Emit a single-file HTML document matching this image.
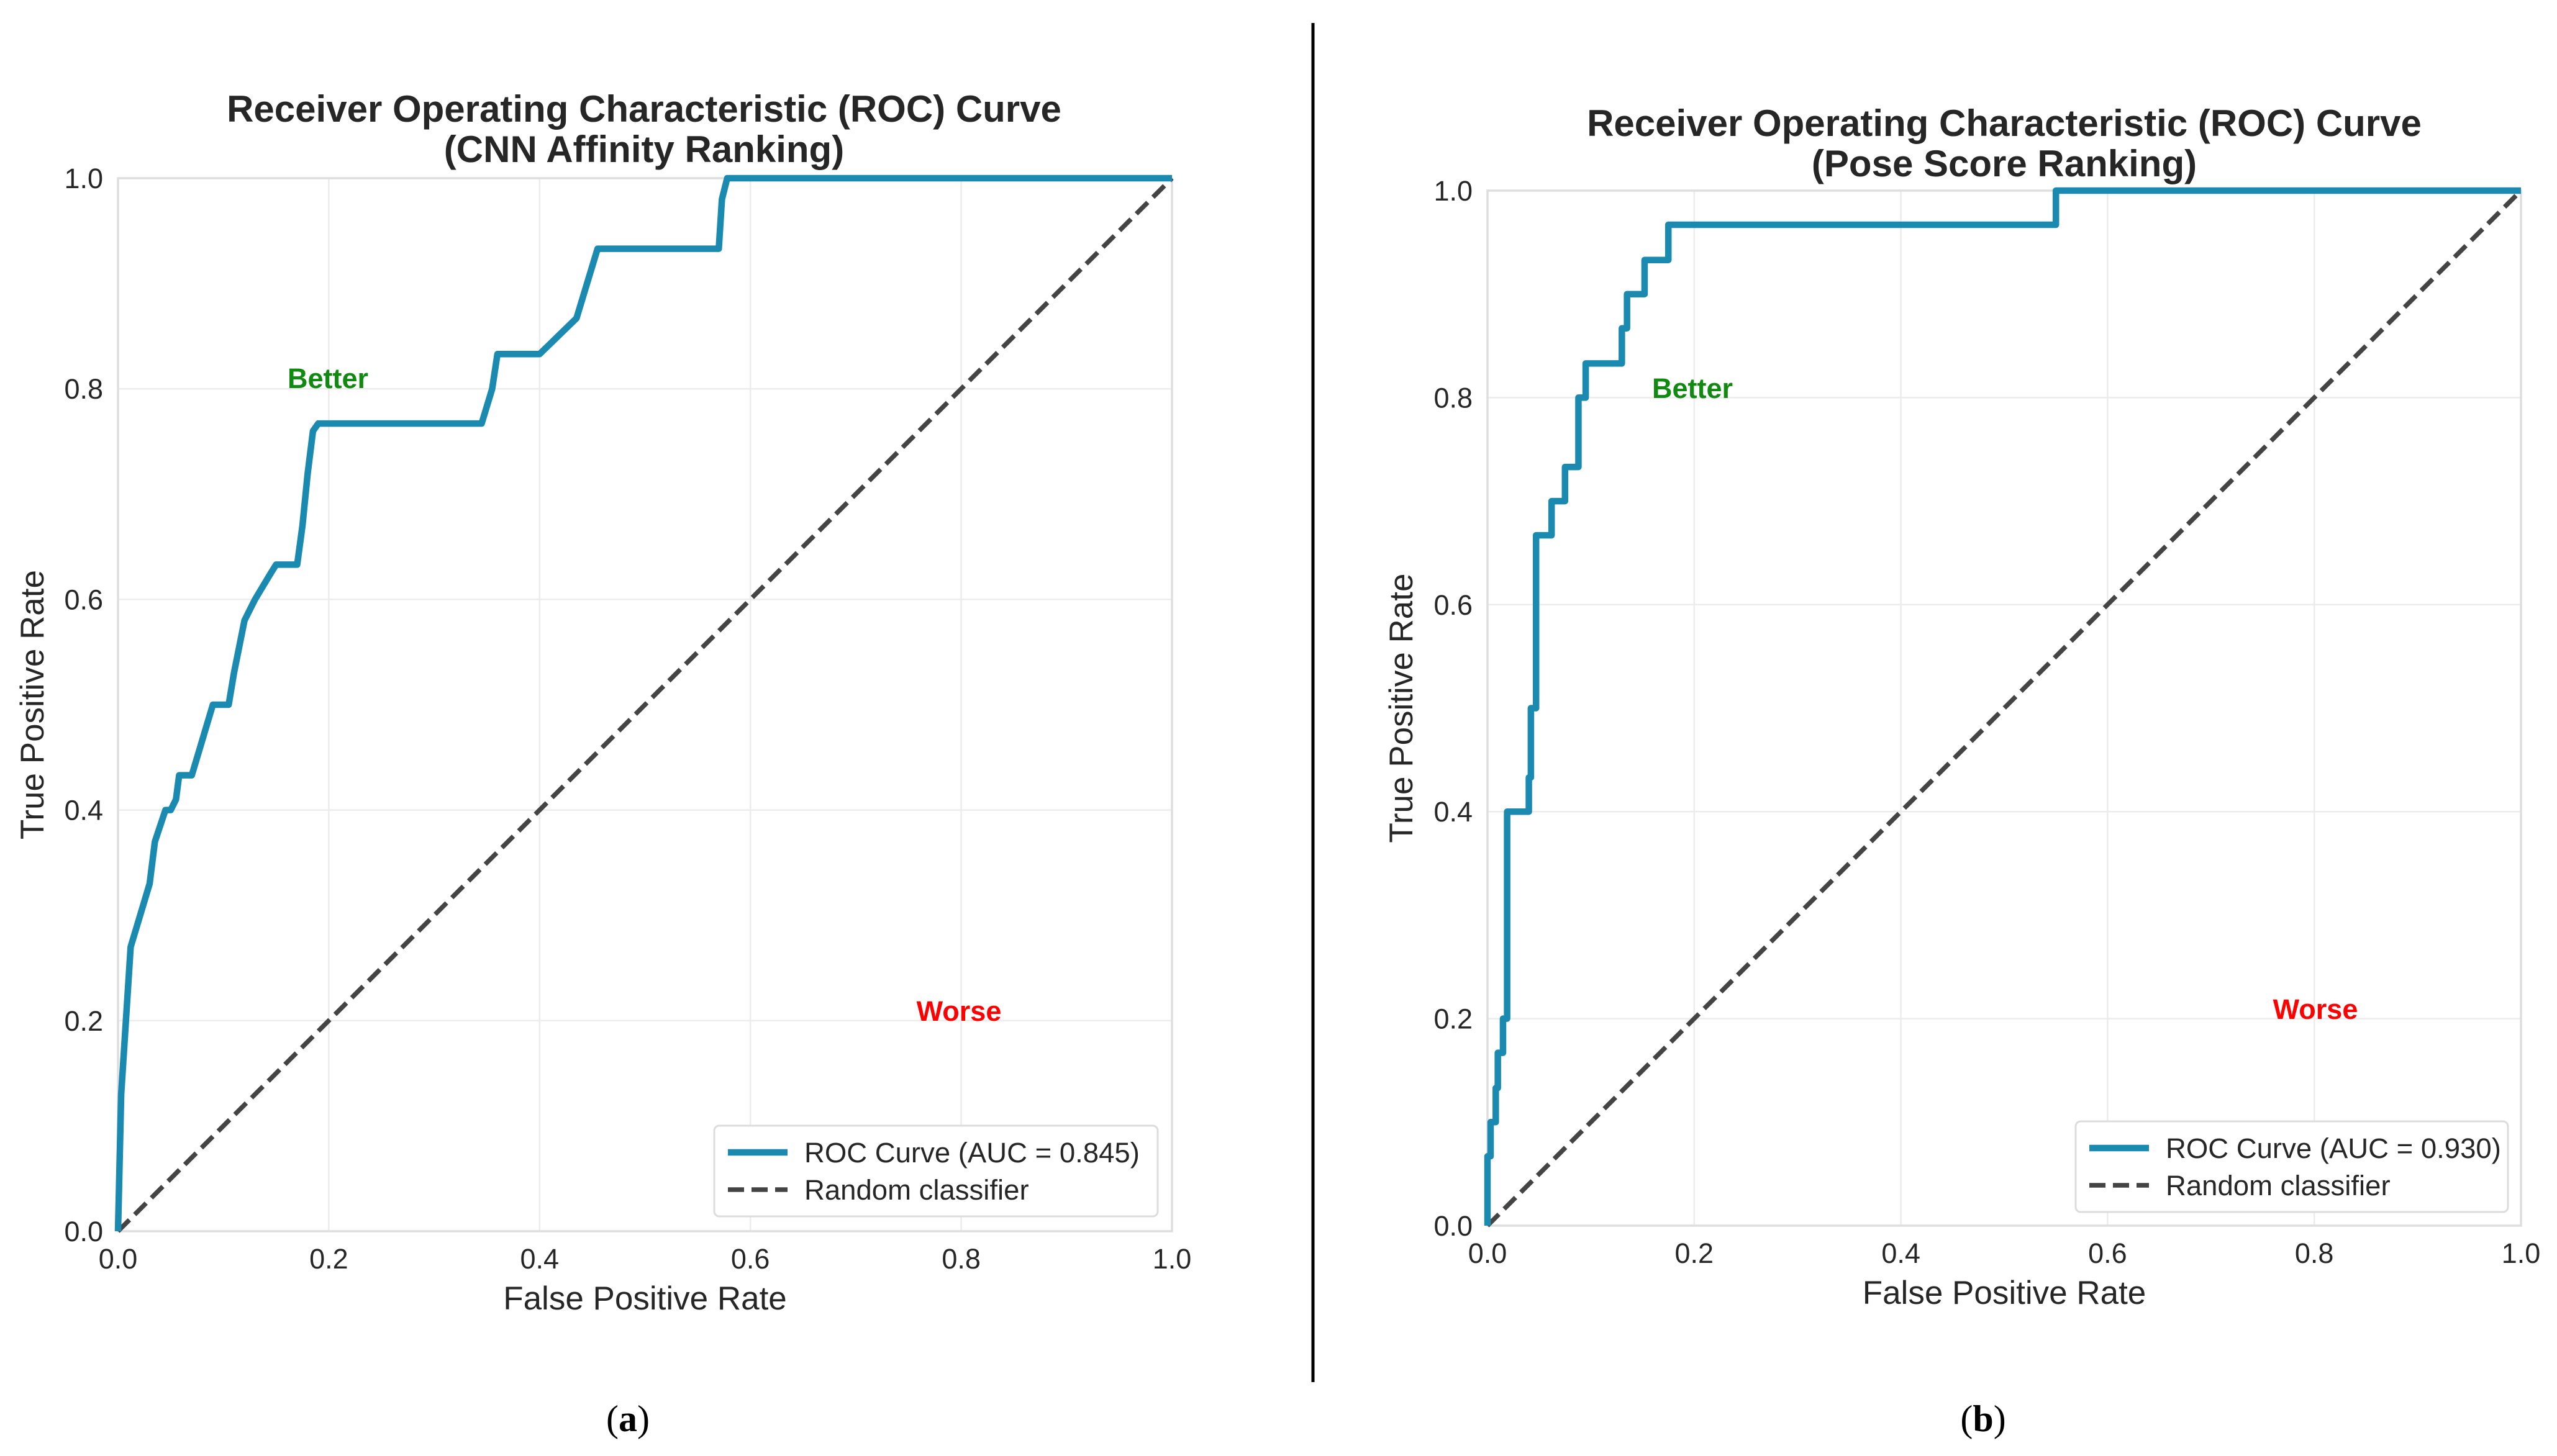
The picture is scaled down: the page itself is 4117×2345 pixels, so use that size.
<!DOCTYPE html>
<html><head><meta charset="utf-8">
<style>
html,body{margin:0;padding:0;background:#fff;}
svg{display:block;}
text{font-family:"Liberation Sans",sans-serif;}
</style></head>
<body>
<svg id="fig" width="4117" height="2345" viewBox="0 0 4117 2345" xmlns="http://www.w3.org/2000/svg">
<rect width="4117" height="2345" fill="#fff"/>
<line x1="2114" y1="37" x2="2114" y2="2226" stroke="#000" stroke-width="5"/>
<text x="1011" y="2305" font-size="60" text-anchor="middle" style="font-family:'Liberation Serif',serif">(<tspan font-weight="bold">a</tspan>)</text>
<text x="3193" y="2305" font-size="60" text-anchor="middle" style="font-family:'Liberation Serif',serif">(<tspan font-weight="bold">b</tspan>)</text>
</svg>
<script>
const ticks = [0, 0.2, 0.4, 0.6, 0.8, 1.0];
const tickLabels = ["0.0","0.2","0.4","0.6","0.8","1.0"];
// Panel A: CNN affinity ROC (fpr, tpr), drawn as polyline
const fprA = [0,0.003,0.012,0.03,0.035,0.045,0.05,0.055,0.058,0.07,0.09,0.105,0.11,0.12,0.13,0.145,0.15,0.17,0.175,0.18,0.185,0.19,0.345,0.355,0.36,0.40,0.435,0.445,0.455,0.57,0.573,0.578,1.0];
const tprA = [0,0.13,0.27,0.33,0.37,0.40,0.40,0.41,0.433,0.433,0.50,0.50,0.53,0.58,0.60,0.625,0.633,0.633,0.67,0.72,0.76,0.767,0.767,0.80,0.833,0.833,0.867,0.9,0.933,0.933,0.98,1.0,1.0];
// Panel B: Pose score ROC, drawn as steps (horizontal then vertical)
const fprB = [0,0,0.003,0.008,0.010,0.015,0.019,0.040,0.042,0.047,0.062,0.075,0.088,0.095,0.130,0.135,0.152,0.175,0.550,1.0];
const tprB = [0,0.067,0.1,0.133,0.167,0.2,0.4,0.433,0.5,0.667,0.7,0.733,0.8,0.833,0.867,0.9,0.933,0.967,1.0,1.0];
const aucA = "0.845", aucB = "0.930";

const NS = "http://www.w3.org/2000/svg";
const svg = document.getElementById('fig');
function mk(tag, attrs, parent, txt){
  const e = document.createElementNS(NS, tag);
  for (const k in attrs) e.setAttribute(k, attrs[k]);
  if (txt !== undefined) e.textContent = txt;
  (parent||svg).appendChild(e);
  return e;
}
function panel(cfg){
  const g = mk('g', {});
  
  
  const sx = v => cfg.x0 + v*(cfg.x1-cfg.x0);
  const sy = v => cfg.y0 - v*(cfg.y0-cfg.y1);
  ticks.forEach((t,i)=>{
    if (i>0 && i<ticks.length-1){
      const gx = mk('line',{x1:sx(t),y1:cfg.y1,x2:sx(t),y2:cfg.y0,stroke:'#ececec','stroke-width':2.5},g);
      
      
      const gy = mk('line',{x1:cfg.x0,y1:sy(t),x2:cfg.x1,y2:sy(t),stroke:'#ececec','stroke-width':2.5},g);
      
      
    }
    const xl = mk('text',{x:sx(t),y:cfg.y0+60,'font-size':45,'text-anchor':'middle',fill:'#262626'},g,tickLabels[i]);
    
    
    const yl = mk('text',{x:cfg.x0-24,y:sy(t)+16,'font-size':45,'text-anchor':'end',fill:'#262626'},g,tickLabels[i]);
    
    
  });
  const fr = mk('rect',{x:cfg.x0,y:cfg.y1,width:cfg.x1-cfg.x0,height:cfg.y0-cfg.y1,fill:'none',stroke:'#dedede','stroke-width':3.5},g);
  
  
  const dg = mk('line',{x1:sx(0),y1:sy(0),x2:sx(1),y2:sy(1),stroke:'#444','stroke-width':7.5,'stroke-dasharray':'26 12'},g);
  
  
  let d = '';
  if (cfg.step){
    d = 'M'+sx(cfg.fpr[0])+','+sy(cfg.tpr[0]);
    for (let i=1;i<cfg.fpr.length;i++){ d += ' H'+sx(cfg.fpr[i])+' V'+sy(cfg.tpr[i]); }
  } else {
    d = cfg.fpr.map((f,i)=>(i?'L':'M')+sx(f)+','+sy(cfg.tpr[i])).join(' ');
  }
  const rc = mk('path',{d:d,fill:'none',stroke:'#1a8ab0','stroke-width':10.5,'stroke-linejoin':'round'},g);
  
  
  const t1 = mk('text',{x:cfg.tx,y:cfg.ty,'font-size':60,'font-weight':'bold','text-anchor':'middle',fill:'#262626'},g,'Receiver Operating Characteristic (ROC) Curve');
  
  
  const t2 = mk('text',{x:cfg.tx,y:cfg.ty+65,'font-size':60,'font-weight':'bold','text-anchor':'middle',fill:'#262626'},g,cfg.sub);
  
  
  const xt = mk('text',{x:(cfg.x0+cfg.x1)/2,y:cfg.y0+126,'font-size':53,'text-anchor':'middle',fill:'#262626'},g,'False Positive Rate');
  
  
  const yt = mk('text',{x:cfg.ytx,y:(cfg.y0+cfg.y1)/2,'font-size':53,'text-anchor':'middle',fill:'#262626',transform:'rotate(-90 '+cfg.ytx+' '+((cfg.y0+cfg.y1)/2)+')'},g,'True Positive Rate');
  
  
  const bt = mk('text',{x:cfg.bx,y:cfg.by,'font-size':45,'font-weight':'bold','text-anchor':'middle',fill:'#118a11'},g,'Better');
  
  
  const wt = mk('text',{x:cfg.wx,y:cfg.wy,'font-size':45,'font-weight':'bold','text-anchor':'middle',fill:'#ff0000'},g,'Worse');
  
  
  const lg = mk('g',{},g);
  
  
  mk('rect',{x:cfg.lx,y:cfg.ly,width:cfg.lw,height:146,rx:8,fill:'#fff',stroke:'#dcdcdc','stroke-width':3},lg);
  const l1 = mk('line',{x1:cfg.lx+22,y1:cfg.ly+43,x2:cfg.lx+118,y2:cfg.ly+43,stroke:'#1a8ab0','stroke-width':10.5},lg);
  
  
  const e1 = mk('text',{x:cfg.lx+145,y:cfg.ly+59,'font-size':45.5,fill:'#262626'},lg,'ROC Curve (AUC = '+cfg.auc+')');
  
  
  const l2 = mk('line',{x1:cfg.lx+22,y1:cfg.ly+103,x2:cfg.lx+118,y2:cfg.ly+103,stroke:'#444','stroke-width':7.5,'stroke-dasharray':'26 12'},lg);
  
  
  const e2 = mk('text',{x:cfg.lx+145,y:cfg.ly+119,'font-size':45.5,fill:'#262626'},lg,'Random classifier');
  
  
}
panel({id:'cnn-affinity',x0:190,x1:1887,y1:287,y0:1983,fpr:fprA,tpr:tprA,step:false,
  tx:1037,ty:196,sub:'(CNN Affinity Ranking)',ytx:70,bx:528,by:625,wx:1544,wy:1644,
  lx:1150,ly:1813,lw:714,auc:aucA});
panel({id:'pose-score',x0:2395,x1:4059,y1:307,y0:1974,fpr:fprB,tpr:tprB,step:true,
  tx:3227,ty:219,sub:'(Pose Score Ranking)',ytx:2274,bx:2725,by:641,wx:3728,wy:1641,
  lx:3342,ly:1806,lw:696,auc:aucB});
</script>
</body></html>
